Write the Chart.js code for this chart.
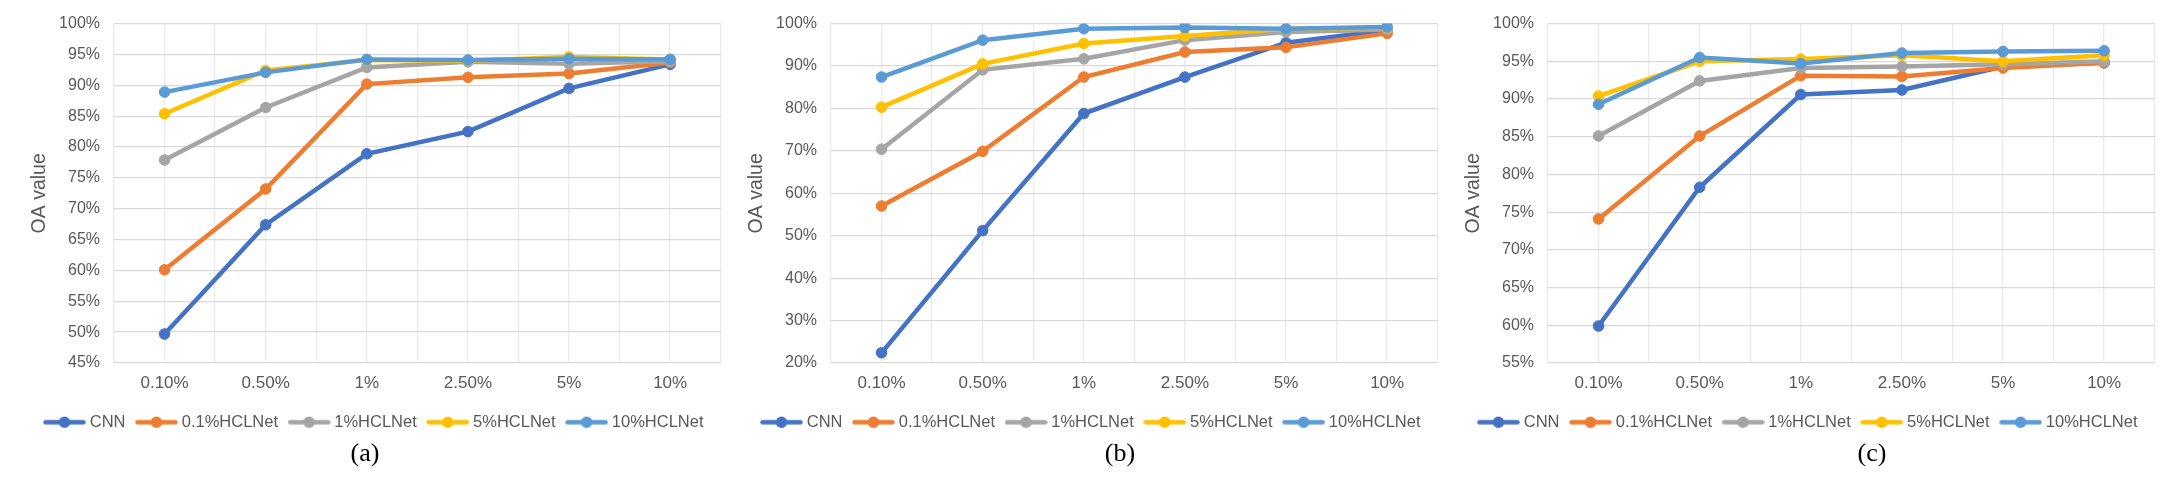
<!DOCTYPE html>
<html>
<head>
<meta charset="utf-8">
<script src="https://cdn.jsdelivr.net/npm/chart.js@4.4.0/dist/chart.umd.min.js"></script>
<style>
  html, body { margin: 0; padding: 0; background: #fff; }
  body { width: 2183px; height: 486px; position: relative; overflow: hidden; }
  .wrap { position: absolute; top: 0; width: 703px; height: 486px; }
  .cap { position: absolute; top: 453px; transform: translate(-50%, -50%);
         font-family: 'Liberation Serif', 'Times New Roman', serif; font-size: 26px; color: #000; }
</style>
</head>
<body>
<div class="wrap" style="left:24px"><canvas id="chartA"></canvas></div>
<div class="wrap" style="left:741px"><canvas id="chartB"></canvas></div>
<div class="wrap" style="left:1458px"><canvas id="chartC"></canvas></div>
<div class="cap" style="left:365px">(a)</div>
<div class="cap" style="left:1120px">(b)</div>
<div class="cap" style="left:1872px">(c)</div>

<script>
// Categories and series names
const categories = ['0.10%', '0.50%', '1%', '2.50%', '5%', '10%'];
const seriesNames = ['CNN', '0.1%HCLNet', '1%HCLNet', '5%HCLNet', '10%HCLNet'];

// (a) OA values
const a_cnn   = [49.7, 67.4, 78.9, 82.5, 89.5, 93.4];
const a_hcl01 = [60.1, 73.2, 90.2, 91.3, 91.9, 93.7];
const a_hcl1  = [77.9, 86.4, 92.9, 93.8, 93.5, 93.9];
const a_hcl5  = [85.4, 92.4, 94.1, 94.0, 94.6, 94.2];
const a_hcl10 = [88.9, 92.1, 94.2, 94.1, 94.3, 94.2];
const a_yRange = [45, 100, 5];

// (b) OA values
const b_cnn   = [22.4, 51.2, 78.8, 87.4, 95.5, 98.5];
const b_hcl01 = [57.0, 69.9, 87.4, 93.3, 94.4, 97.7];
const b_hcl1  = [70.4, 89.1, 91.7, 96.1, 98.0, 98.6];
const b_hcl5  = [80.3, 90.5, 95.3, 97.1, 98.8, 99.0];
const b_hcl10 = [87.4, 96.1, 98.8, 99.1, 98.8, 99.2];
const b_yRange = [20, 100, 10];

// (c) OA values
const c_cnn   = [59.9, 78.3, 90.6, 91.2, 94.3, 94.8];
const c_hcl01 = [74.1, 85.1, 93.1, 93.0, 94.1, 94.8];
const c_hcl1  = [85.1, 92.4, 94.1, 94.3, 94.6, 95.0];
const c_hcl5  = [90.4, 95.0, 95.3, 95.8, 95.0, 95.8];
const c_hcl10 = [89.3, 95.5, 94.7, 96.1, 96.3, 96.4];
const c_yRange = [55, 100, 5];

const colors = ['#4472C4', '#ED7D31', '#A5A5A5', '#FFC000', '#5B9BD5'];
const textColor = '#595959';
const sans = "'Liberation Sans', Arial, sans-serif";

// legend icon: short line with a dot, like Excel
function legendIcon(color) {
  const c = document.createElement('canvas');
  c.width = 43;
  c.height = 13;
  const g = c.getContext('2d');
  g.strokeStyle = color;
  g.lineWidth = 4.5;
  g.lineCap = 'round';
  g.beginPath();
  g.moveTo(2.5, 6.5);
  g.lineTo(40.5, 6.5);
  g.stroke();
  g.fillStyle = color;
  g.beginPath();
  g.arc(21.5, 6.5, 5.8, 0, Math.PI * 2);
  g.fill();
  return c;
}
const icons = colors.map(legendIcon);

function makeChart(id, series, yRange) {
  const ctx = document.getElementById(id).getContext('2d');
  return new Chart(ctx, {
    type: 'line',
    data: {
      labels: categories,
      datasets: series.map((vals, i) => ({
        label: seriesNames[i],
        data: vals,
        borderColor: colors[i],
        backgroundColor: colors[i],
        pointBackgroundColor: colors[i],
        pointBorderColor: colors[i],
        borderWidth: 4.5,
        pointRadius: 5.3,
        pointBorderWidth: 1,
        pointHoverRadius: 5.3,
        tension: 0,
        order: series.length - 1 - i   // later series drawn on top
      }))
    },
    options: {
      responsive: true,
      maintainAspectRatio: false,
      animation: false,
      events: [],
      layout: { padding: { top: 23, right: 0, bottom: 45.5, left: 0 } },
      plugins: {
        tooltip: { enabled: false },
        legend: {
          position: 'bottom',
          labels: {
            usePointStyle: true,
            pointStyleWidth: 34,
            padding: 14,
            color: textColor,
            font: { family: sans, size: 16.5 },
            generateLabels: chart => chart.data.datasets.map((ds, i) => ({
              text: ds.label,
              pointStyle: icons[i],
              fillStyle: ds.borderColor,
              strokeStyle: ds.borderColor,
              lineWidth: 0,
              hidden: false,
              datasetIndex: i,
              fontColor: textColor
            }))
          }
        }
      },
      scales: {
        x: {
          type: 'category',
          offset: true,
          grid: { color: '#ebebeb', lineWidth: 1.3, drawTicks: false },
          border: { display: false },
          ticks: {
            color: textColor,
            padding: 10,
            maxRotation: 0,
            autoSkip: false,
            font: { family: "'Liberation Sans Narrow', 'Liberation Sans', Arial, sans-serif", size: 17 }
          },
          afterFit: s => { s.height = 37; }
        },
        // second category axis only for the gridlines between categories
        xb: {
          type: 'category',
          axis: 'x',
          position: 'bottom',
          offset: true,
          weight: 1,
          grid: { color: '#ebebeb', lineWidth: 1.3, drawTicks: false, offset: true },
          border: { display: false },
          ticks: { display: false },
          afterFit: s => { s.height = 0; }
        },
        y: {
          min: yRange[0],
          max: yRange[1],
          grid: { color: '#d9d9d9', lineWidth: 1.3, drawTicks: false },
          border: { display: false },
          ticks: {
            stepSize: yRange[2],
            padding: 14,
            color: textColor,
            font: { family: sans, size: 16 },
            callback: v => v + '%'
          },
          title: {
            display: true,
            text: 'OA value',
            color: textColor,
            font: { family: sans, size: 19.5 },
            padding: { top: 4, bottom: 4 }
          },
          afterFit: s => { s.width = 90; }
        }
      }
    }
  });
}

makeChart('chartA', [a_cnn, a_hcl01, a_hcl1, a_hcl5, a_hcl10], a_yRange);
makeChart('chartB', [b_cnn, b_hcl01, b_hcl1, b_hcl5, b_hcl10], b_yRange);
makeChart('chartC', [c_cnn, c_hcl01, c_hcl1, c_hcl5, c_hcl10], c_yRange);
</script>
</body>
</html>
